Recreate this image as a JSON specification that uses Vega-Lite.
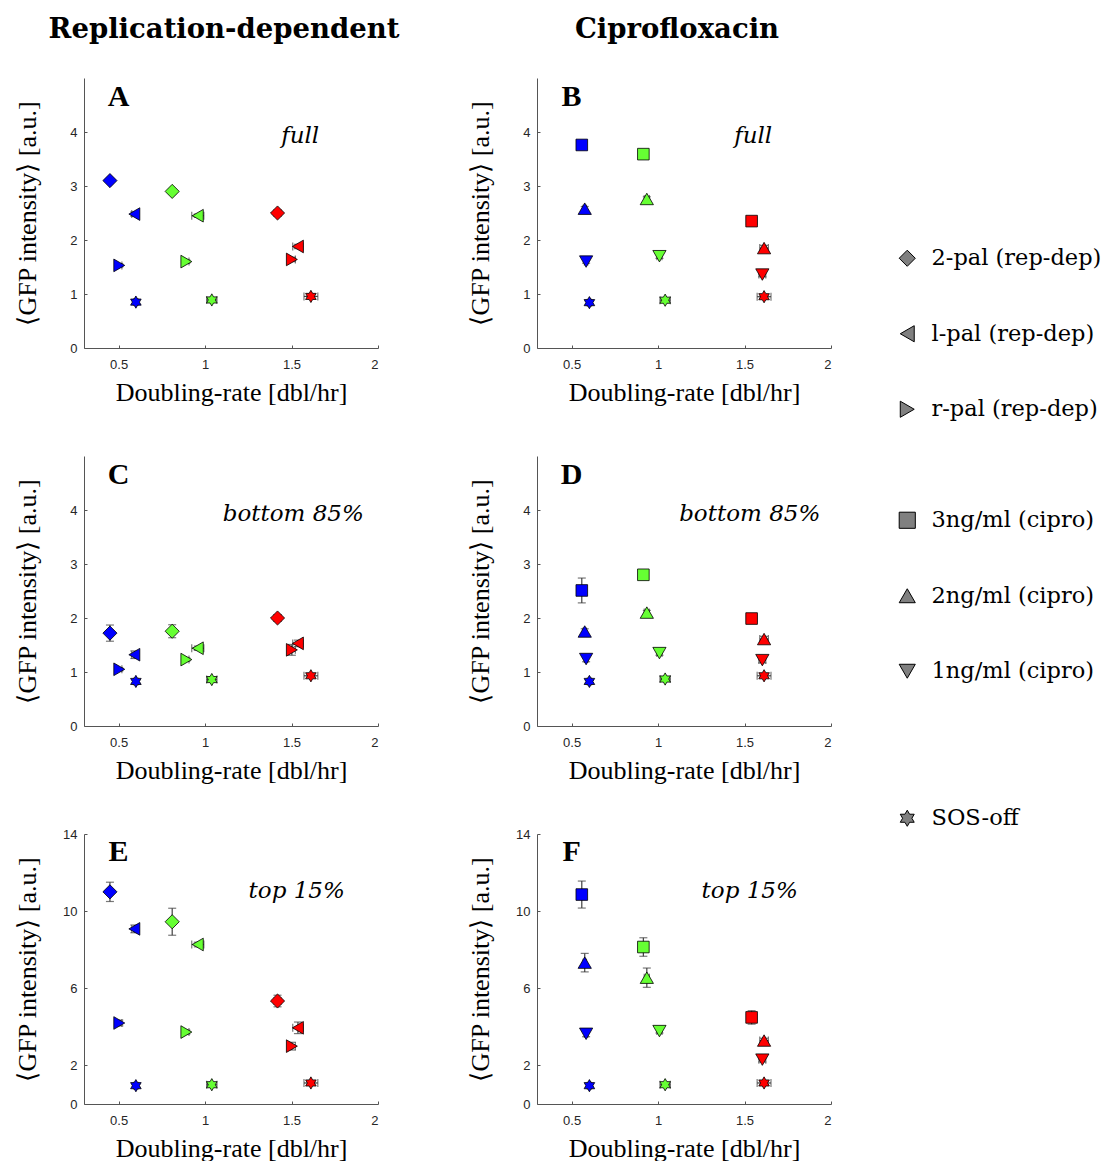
{
  "$schema": "https://vega.github.io/schema/vega-lite/v6.json",
  "background": "white",
  "padding": {"left": 14, "top": 15, "right": 0, "bottom": 0},
  "datasets": {
    "rep": [
      {"strain": "2-pal (rep-dep)", "growth": "slow", "dr": 0.45, "dr_err": 0.01, "full": 3.10, "full_err": 0.04, "bot": 1.72, "bot_err": 0.15, "top": 11.0, "top_err": 0.5},
      {"strain": "l-pal (rep-dep)", "growth": "slow", "dr": 0.591, "dr_err": 0.015, "full": 2.48, "full_err": 0.04, "bot": 1.32, "bot_err": 0.07, "top": 9.08, "top_err": 0.2},
      {"strain": "r-pal (rep-dep)", "growth": "slow", "dr": 0.504, "dr_err": 0.015, "full": 1.53, "full_err": 0.03, "bot": 1.05, "bot_err": 0.03, "top": 4.2, "top_err": 0.15},
      {"strain": "SOS-off", "growth": "slow", "dr": 0.600, "dr_err": 0.012, "full": 0.85, "full_err": 0.03, "bot": 0.825, "bot_err": 0.03, "top": 0.95, "top_err": 0.05},
      {"strain": "2-pal (rep-dep)", "growth": "medium", "dr": 0.81, "dr_err": 0.01, "full": 2.90, "full_err": 0.05, "bot": 1.755, "bot_err": 0.12, "top": 9.45, "top_err": 0.7},
      {"strain": "l-pal (rep-dep)", "growth": "medium", "dr": 0.958, "dr_err": 0.035, "full": 2.45, "full_err": 0.03, "bot": 1.44, "bot_err": 0.04, "top": 8.27, "top_err": 0.12},
      {"strain": "r-pal (rep-dep)", "growth": "medium", "dr": 0.892, "dr_err": 0.015, "full": 1.60, "full_err": 0.03, "bot": 1.23, "bot_err": 0.03, "top": 3.73, "top_err": 0.1},
      {"strain": "SOS-off", "growth": "medium", "dr": 1.039, "dr_err": 0.03, "full": 0.89, "full_err": 0.03, "bot": 0.86, "bot_err": 0.02, "top": 1.0, "top_err": 0.05},
      {"strain": "2-pal (rep-dep)", "growth": "fast", "dr": 1.419, "dr_err": 0.02, "full": 2.50, "full_err": 0.04, "bot": 2.0, "bot_err": 0.06, "top": 5.34, "top_err": 0.3},
      {"strain": "l-pal (rep-dep)", "growth": "fast", "dr": 1.537, "dr_err": 0.03, "full": 1.88, "full_err": 0.04, "bot": 1.53, "bot_err": 0.06, "top": 3.95, "top_err": 0.3},
      {"strain": "r-pal (rep-dep)", "growth": "fast", "dr": 1.502, "dr_err": 0.02, "full": 1.64, "full_err": 0.04, "bot": 1.41, "bot_err": 0.1, "top": 3.0, "top_err": 0.2},
      {"strain": "SOS-off", "growth": "fast", "dr": 1.612, "dr_err": 0.04, "full": 0.955, "full_err": 0.03, "bot": 0.93, "bot_err": 0.03, "top": 1.09, "top_err": 0.05}
    ],
    "cipro": [
      {"strain": "3ng/ml (cipro)", "growth": "slow", "dr": 0.559, "dr_err": 0.01, "full": 3.76, "full_err": 0.04, "bot": 2.51, "bot_err": 0.23, "top": 10.86, "top_err": 0.7},
      {"strain": "2ng/ml (cipro)", "growth": "slow", "dr": 0.576, "dr_err": 0.01, "full": 2.58, "full_err": 0.04, "bot": 1.75, "bot_err": 0.05, "top": 7.33, "top_err": 0.48},
      {"strain": "1ng/ml (cipro)", "growth": "slow", "dr": 0.584, "dr_err": 0.01, "full": 1.60, "full_err": 0.03, "bot": 1.24, "bot_err": 0.05, "top": 3.64, "top_err": 0.15},
      {"strain": "SOS-off", "growth": "slow", "dr": 0.603, "dr_err": 0.012, "full": 0.84, "full_err": 0.03, "bot": 0.825, "bot_err": 0.03, "top": 0.95, "top_err": 0.05},
      {"strain": "3ng/ml (cipro)", "growth": "medium", "dr": 0.915, "dr_err": 0.02, "full": 3.59, "full_err": 0.04, "bot": 2.80, "bot_err": 0.05, "top": 8.14, "top_err": 0.48},
      {"strain": "2ng/ml (cipro)", "growth": "medium", "dr": 0.935, "dr_err": 0.015, "full": 2.76, "full_err": 0.04, "bot": 2.10, "bot_err": 0.04, "top": 6.55, "top_err": 0.5},
      {"strain": "1ng/ml (cipro)", "growth": "medium", "dr": 1.008, "dr_err": 0.015, "full": 1.70, "full_err": 0.04, "bot": 1.35, "bot_err": 0.04, "top": 3.78, "top_err": 0.1},
      {"strain": "SOS-off", "growth": "medium", "dr": 1.041, "dr_err": 0.03, "full": 0.885, "full_err": 0.03, "bot": 0.87, "bot_err": 0.02, "top": 1.0, "top_err": 0.05},
      {"strain": "3ng/ml (cipro)", "growth": "fast", "dr": 1.541, "dr_err": 0.03, "full": 2.35, "full_err": 0.04, "bot": 1.99, "bot_err": 0.04, "top": 4.49, "top_err": 0.35},
      {"strain": "2ng/ml (cipro)", "growth": "fast", "dr": 1.613, "dr_err": 0.025, "full": 1.85, "full_err": 0.05, "bot": 1.61, "bot_err": 0.05, "top": 3.29, "top_err": 0.12},
      {"strain": "1ng/ml (cipro)", "growth": "fast", "dr": 1.603, "dr_err": 0.02, "full": 1.36, "full_err": 0.04, "bot": 1.22, "bot_err": 0.05, "top": 2.30, "top_err": 0.12},
      {"strain": "SOS-off", "growth": "fast", "dr": 1.613, "dr_err": 0.04, "full": 0.95, "full_err": 0.03, "bot": 0.93, "bot_err": 0.03, "top": 1.09, "top_err": 0.05}
    ]
  },
  "config": {
    "view": {"stroke": null},
    "axis": {
      "grid": false,
      "domainColor": "#555555",
      "domainWidth": 1,
      "tickColor": "#555555",
      "tickSize": -3,
      "labelFont": "Liberation Sans",
      "labelFontSize": 13,
      "labelColor": "#262626",
      "titleFont": "Liberation Serif",
      "titleFontSize": 26,
      "titleFontWeight": "normal",
      "titleColor": "black"
    },
    "legend": {"title": null, "labelFont": "DejaVu Serif", "labelFontSize": 22.5, "labelColor": "black", "symbolSize": 260, "rowPadding": 52.5, "labelOffset": 13, "labelLimit": 400, "symbolFillColor": "#808080", "symbolStrokeColor": "black", "symbolStrokeWidth": 1, "symbolOpacity": 1},
    "text": {"color": "black", "align": "center", "baseline": "middle"}
  },
  "columns": 2,
  "spacing": {"row": 108, "column": 159},
  "bounds": "flush",
  "resolve": {"scale": {"shape": "independent", "size": "independent"}, "legend": {"shape": "independent"}},
  "concat": [
    {
      "width": 294, "height": 270,
      "title": {"text": "Replication-dependent", "font": "DejaVu Serif", "fontSize": 27.5, "fontWeight": "bold", "color": "black", "anchor": "middle", "dx": -7, "offset": 35},
      "layer": [
        {"data": {"name": "rep"}, "mark": {"type": "errorbar", "ticks": {"size": 8}, "color": "#404040", "thickness": 1.2},
         "encoding": {"x": {"field": "dr", "type": "quantitative", "scale": {"domain": [0.3, 2], "nice": false, "zero": false}, "axis": {"title": "Doubling-rate [dbl/hr]", "values": [0.5, 1, 1.5, 2], "format": "~g", "labelPadding": 13, "titlePadding": 8}},
                      "y": {"field": "full", "type": "quantitative", "scale": {"domain": [0, 5], "nice": false, "zero": false}, "axis": {"title": "⟨GFP intensity⟩ [a.u.]", "values": [0, 1, 2, 3, 4], "labelPadding": 10, "titlePadding": 29}},
                      "yError": {"field": "full_err"}}},
        {"data": {"name": "rep"}, "mark": {"type": "errorbar", "ticks": {"size": 8}, "color": "#404040", "thickness": 1.2},
         "encoding": {"x": {"field": "dr", "type": "quantitative", "scale": {"domain": [0.3, 2], "nice": false, "zero": false}, "axis": {"title": "Doubling-rate [dbl/hr]", "values": [0.5, 1, 1.5, 2], "format": "~g", "labelPadding": 13, "titlePadding": 8}},
                      "xError": {"field": "dr_err"},
                      "y": {"field": "full", "type": "quantitative", "scale": {"domain": [0, 5], "nice": false, "zero": false}, "axis": {"title": "⟨GFP intensity⟩ [a.u.]", "values": [0, 1, 2, 3, 4], "labelPadding": 10, "titlePadding": 29}}}},
        {"data": {"name": "rep"}, "mark": {"type": "point", "filled": true, "stroke": "black", "strokeWidth": 0.8, "opacity": 1},
         "encoding": {
           "x": {"field": "dr", "type": "quantitative", "scale": {"domain": [0.3, 2], "nice": false, "zero": false}, "axis": {"title": "Doubling-rate [dbl/hr]", "values": [0.5, 1, 1.5, 2], "format": "~g", "labelPadding": 13, "titlePadding": 8}},
           "y": {"field": "full", "type": "quantitative", "scale": {"domain": [0, 5], "nice": false, "zero": false}, "axis": {"title": "⟨GFP intensity⟩ [a.u.]", "values": [0, 1, 2, 3, 4], "labelPadding": 10, "titlePadding": 29}},
           "fill": {"field": "growth", "type": "nominal", "scale": {"domain": ["slow", "medium", "fast"], "range": ["#0000ff", "#66ff33", "#ff0000"]}, "legend": null},
           "shape": {"field": "strain", "type": "nominal", "scale": {"domain": ["2-pal (rep-dep)", "l-pal (rep-dep)", "r-pal (rep-dep)", "SOS-off"], "range": ["diamond", "triangle-left", "triangle-right", "M0,-1L0.289,-0.5L0.866,-0.5L0.577,0L0.866,0.5L0.289,0.5L0,1L-0.289,0.5L-0.866,0.5L-0.577,0L-0.866,-0.5L-0.289,-0.5Z"]},
             "legend": {"orient": "none", "legendX": 812, "legendY": 169, "values": ["2-pal (rep-dep)", "l-pal (rep-dep)", "r-pal (rep-dep)"]}},
           "size": {"field": "strain", "type": "nominal", "scale": {"type": "ordinal", "domain": ["SOS-off", "2-pal (rep-dep)", "l-pal (rep-dep)", "r-pal (rep-dep)"], "range": [150, 200, 160, 160]}, "legend": null}
         }},
        {"data": {"values": [{"label": "A"}]}, "mark": {"type": "text", "font": "Liberation Serif", "fontWeight": "bold", "fontSize": 30},
         "encoding": {"x": {"datum": 0.5, "type": "quantitative"}, "y": {"datum": 4.64, "type": "quantitative"}, "text": {"field": "label"}}},
        {"data": {"values": [{"label": "full"}]}, "mark": {"type": "text", "font": "DejaVu Serif", "fontStyle": "italic", "fontSize": 23},
         "encoding": {"x": {"datum": 1.55, "type": "quantitative"}, "y": {"datum": 3.92, "type": "quantitative"}, "text": {"field": "label"}}}
      ]
    },
    {
      "width": 294, "height": 270,
      "title": {"text": "Ciprofloxacin", "font": "DejaVu Serif", "fontSize": 27.5, "fontWeight": "bold", "color": "black", "anchor": "middle", "dx": -7, "offset": 35},
      "layer": [
        {"data": {"name": "cipro"}, "mark": {"type": "errorbar", "ticks": {"size": 8}, "color": "#404040", "thickness": 1.2},
         "encoding": {"x": {"field": "dr", "type": "quantitative", "scale": {"domain": [0.3, 2], "nice": false, "zero": false}, "axis": {"title": "Doubling-rate [dbl/hr]", "values": [0.5, 1, 1.5, 2], "format": "~g", "labelPadding": 13, "titlePadding": 8}},
                      "y": {"field": "full", "type": "quantitative", "scale": {"domain": [0, 5], "nice": false, "zero": false}, "axis": {"title": "⟨GFP intensity⟩ [a.u.]", "values": [0, 1, 2, 3, 4], "labelPadding": 10, "titlePadding": 29}},
                      "yError": {"field": "full_err"}}},
        {"data": {"name": "cipro"}, "mark": {"type": "errorbar", "ticks": {"size": 8}, "color": "#404040", "thickness": 1.2},
         "encoding": {"x": {"field": "dr", "type": "quantitative", "scale": {"domain": [0.3, 2], "nice": false, "zero": false}, "axis": {"title": "Doubling-rate [dbl/hr]", "values": [0.5, 1, 1.5, 2], "format": "~g", "labelPadding": 13, "titlePadding": 8}},
                      "xError": {"field": "dr_err"},
                      "y": {"field": "full", "type": "quantitative", "scale": {"domain": [0, 5], "nice": false, "zero": false}, "axis": {"title": "⟨GFP intensity⟩ [a.u.]", "values": [0, 1, 2, 3, 4], "labelPadding": 10, "titlePadding": 29}}}},
        {"data": {"name": "cipro"}, "mark": {"type": "point", "filled": true, "stroke": "black", "strokeWidth": 0.8, "opacity": 1},
         "encoding": {
           "x": {"field": "dr", "type": "quantitative", "scale": {"domain": [0.3, 2], "nice": false, "zero": false}, "axis": {"title": "Doubling-rate [dbl/hr]", "values": [0.5, 1, 1.5, 2], "format": "~g", "labelPadding": 13, "titlePadding": 8}},
           "y": {"field": "full", "type": "quantitative", "scale": {"domain": [0, 5], "nice": false, "zero": false}, "axis": {"title": "⟨GFP intensity⟩ [a.u.]", "values": [0, 1, 2, 3, 4], "labelPadding": 10, "titlePadding": 29}},
           "fill": {"field": "growth", "type": "nominal", "scale": {"domain": ["slow", "medium", "fast"], "range": ["#0000ff", "#66ff33", "#ff0000"]}, "legend": null},
           "shape": {"field": "strain", "type": "nominal", "scale": {"domain": ["3ng/ml (cipro)", "2ng/ml (cipro)", "1ng/ml (cipro)", "SOS-off"], "range": ["square", "triangle-up", "triangle-down", "M0,-1L0.289,-0.5L0.866,-0.5L0.577,0L0.866,0.5L0.289,0.5L0,1L-0.289,0.5L-0.866,0.5L-0.577,0L-0.866,-0.5L-0.289,-0.5Z"]},
             "legend": {"orient": "none", "legendX": 359, "legendY": 431, "values": ["3ng/ml (cipro)", "2ng/ml (cipro)", "1ng/ml (cipro)"]}},
           "size": {"field": "strain", "type": "nominal", "scale": {"type": "ordinal", "domain": ["SOS-off", "3ng/ml (cipro)", "2ng/ml (cipro)", "1ng/ml (cipro)"], "range": [150, 135, 175, 175]}, "legend": null}
         }},
        {"data": {"values": [{"label": "B"}]}, "mark": {"type": "text", "font": "Liberation Serif", "fontWeight": "bold", "fontSize": 30},
         "encoding": {"x": {"datum": 0.5, "type": "quantitative"}, "y": {"datum": 4.64, "type": "quantitative"}, "text": {"field": "label"}}},
        {"data": {"values": [{"label": "full"}]}, "mark": {"type": "text", "font": "DejaVu Serif", "fontStyle": "italic", "fontSize": 23},
         "encoding": {"x": {"datum": 1.55, "type": "quantitative"}, "y": {"datum": 3.92, "type": "quantitative"}, "text": {"field": "label"}}}
      ]
    },
    {
      "width": 294, "height": 270,
      "layer": [
        {"data": {"name": "rep"}, "mark": {"type": "errorbar", "ticks": {"size": 8}, "color": "#404040", "thickness": 1.2},
         "encoding": {"x": {"field": "dr", "type": "quantitative", "scale": {"domain": [0.3, 2], "nice": false, "zero": false}, "axis": {"title": "Doubling-rate [dbl/hr]", "values": [0.5, 1, 1.5, 2], "format": "~g", "labelPadding": 13, "titlePadding": 8}},
                      "y": {"field": "bot", "type": "quantitative", "scale": {"domain": [0, 5], "nice": false, "zero": false}, "axis": {"title": "⟨GFP intensity⟩ [a.u.]", "values": [0, 1, 2, 3, 4], "labelPadding": 10, "titlePadding": 29}},
                      "yError": {"field": "bot_err"}}},
        {"data": {"name": "rep"}, "mark": {"type": "errorbar", "ticks": {"size": 8}, "color": "#404040", "thickness": 1.2},
         "encoding": {"x": {"field": "dr", "type": "quantitative", "scale": {"domain": [0.3, 2], "nice": false, "zero": false}, "axis": {"title": "Doubling-rate [dbl/hr]", "values": [0.5, 1, 1.5, 2], "format": "~g", "labelPadding": 13, "titlePadding": 8}},
                      "xError": {"field": "dr_err"},
                      "y": {"field": "bot", "type": "quantitative", "scale": {"domain": [0, 5], "nice": false, "zero": false}, "axis": {"title": "⟨GFP intensity⟩ [a.u.]", "values": [0, 1, 2, 3, 4], "labelPadding": 10, "titlePadding": 29}}}},
        {"data": {"name": "rep"}, "mark": {"type": "point", "filled": true, "stroke": "black", "strokeWidth": 0.8, "opacity": 1},
         "encoding": {
           "x": {"field": "dr", "type": "quantitative", "scale": {"domain": [0.3, 2], "nice": false, "zero": false}, "axis": {"title": "Doubling-rate [dbl/hr]", "values": [0.5, 1, 1.5, 2], "format": "~g", "labelPadding": 13, "titlePadding": 8}},
           "y": {"field": "bot", "type": "quantitative", "scale": {"domain": [0, 5], "nice": false, "zero": false}, "axis": {"title": "⟨GFP intensity⟩ [a.u.]", "values": [0, 1, 2, 3, 4], "labelPadding": 10, "titlePadding": 29}},
           "fill": {"field": "growth", "type": "nominal", "scale": {"domain": ["slow", "medium", "fast"], "range": ["#0000ff", "#66ff33", "#ff0000"]}, "legend": null},
           "shape": {"field": "strain", "type": "nominal", "scale": {"domain": ["2-pal (rep-dep)", "l-pal (rep-dep)", "r-pal (rep-dep)", "SOS-off"], "range": ["diamond", "triangle-left", "triangle-right", "M0,-1L0.289,-0.5L0.866,-0.5L0.577,0L0.866,0.5L0.289,0.5L0,1L-0.289,0.5L-0.866,0.5L-0.577,0L-0.866,-0.5L-0.289,-0.5Z"]},
             "legend": {"orient": "none", "legendX": 812, "legendY": 351, "values": ["SOS-off"]}},
           "size": {"field": "strain", "type": "nominal", "scale": {"type": "ordinal", "domain": ["SOS-off", "2-pal (rep-dep)", "l-pal (rep-dep)", "r-pal (rep-dep)"], "range": [150, 200, 160, 160]}, "legend": null}
         }},
        {"data": {"values": [{"label": "C"}]}, "mark": {"type": "text", "font": "Liberation Serif", "fontWeight": "bold", "fontSize": 30},
         "encoding": {"x": {"datum": 0.5, "type": "quantitative"}, "y": {"datum": 4.64, "type": "quantitative"}, "text": {"field": "label"}}},
        {"data": {"values": [{"label": "bottom 85%"}]}, "mark": {"type": "text", "font": "DejaVu Serif", "fontStyle": "italic", "fontSize": 23},
         "encoding": {"x": {"datum": 1.51, "type": "quantitative"}, "y": {"datum": 3.93, "type": "quantitative"}, "text": {"field": "label"}}}
      ]
    },
    {
      "width": 294, "height": 270,
      "layer": [
        {"data": {"name": "cipro"}, "mark": {"type": "errorbar", "ticks": {"size": 8}, "color": "#404040", "thickness": 1.2},
         "encoding": {"x": {"field": "dr", "type": "quantitative", "scale": {"domain": [0.3, 2], "nice": false, "zero": false}, "axis": {"title": "Doubling-rate [dbl/hr]", "values": [0.5, 1, 1.5, 2], "format": "~g", "labelPadding": 13, "titlePadding": 8}},
                      "y": {"field": "bot", "type": "quantitative", "scale": {"domain": [0, 5], "nice": false, "zero": false}, "axis": {"title": "⟨GFP intensity⟩ [a.u.]", "values": [0, 1, 2, 3, 4], "labelPadding": 10, "titlePadding": 29}},
                      "yError": {"field": "bot_err"}}},
        {"data": {"name": "cipro"}, "mark": {"type": "errorbar", "ticks": {"size": 8}, "color": "#404040", "thickness": 1.2},
         "encoding": {"x": {"field": "dr", "type": "quantitative", "scale": {"domain": [0.3, 2], "nice": false, "zero": false}, "axis": {"title": "Doubling-rate [dbl/hr]", "values": [0.5, 1, 1.5, 2], "format": "~g", "labelPadding": 13, "titlePadding": 8}},
                      "xError": {"field": "dr_err"},
                      "y": {"field": "bot", "type": "quantitative", "scale": {"domain": [0, 5], "nice": false, "zero": false}, "axis": {"title": "⟨GFP intensity⟩ [a.u.]", "values": [0, 1, 2, 3, 4], "labelPadding": 10, "titlePadding": 29}}}},
        {"data": {"name": "cipro"}, "mark": {"type": "point", "filled": true, "stroke": "black", "strokeWidth": 0.8, "opacity": 1},
         "encoding": {
           "x": {"field": "dr", "type": "quantitative", "scale": {"domain": [0.3, 2], "nice": false, "zero": false}, "axis": {"title": "Doubling-rate [dbl/hr]", "values": [0.5, 1, 1.5, 2], "format": "~g", "labelPadding": 13, "titlePadding": 8}},
           "y": {"field": "bot", "type": "quantitative", "scale": {"domain": [0, 5], "nice": false, "zero": false}, "axis": {"title": "⟨GFP intensity⟩ [a.u.]", "values": [0, 1, 2, 3, 4], "labelPadding": 10, "titlePadding": 29}},
           "fill": {"field": "growth", "type": "nominal", "scale": {"domain": ["slow", "medium", "fast"], "range": ["#0000ff", "#66ff33", "#ff0000"]}, "legend": null},
           "shape": {"field": "strain", "type": "nominal", "scale": {"domain": ["3ng/ml (cipro)", "2ng/ml (cipro)", "1ng/ml (cipro)", "SOS-off"], "range": ["square", "triangle-up", "triangle-down", "M0,-1L0.289,-0.5L0.866,-0.5L0.577,0L0.866,0.5L0.289,0.5L0,1L-0.289,0.5L-0.866,0.5L-0.577,0L-0.866,-0.5L-0.289,-0.5Z"]}, "legend": null},
           "size": {"field": "strain", "type": "nominal", "scale": {"type": "ordinal", "domain": ["SOS-off", "3ng/ml (cipro)", "2ng/ml (cipro)", "1ng/ml (cipro)"], "range": [150, 135, 175, 175]}, "legend": null}
         }},
        {"data": {"values": [{"label": "D"}]}, "mark": {"type": "text", "font": "Liberation Serif", "fontWeight": "bold", "fontSize": 30},
         "encoding": {"x": {"datum": 0.5, "type": "quantitative"}, "y": {"datum": 4.64, "type": "quantitative"}, "text": {"field": "label"}}},
        {"data": {"values": [{"label": "bottom 85%"}]}, "mark": {"type": "text", "font": "DejaVu Serif", "fontStyle": "italic", "fontSize": 23},
         "encoding": {"x": {"datum": 1.53, "type": "quantitative"}, "y": {"datum": 3.93, "type": "quantitative"}, "text": {"field": "label"}}}
      ]
    },
    {
      "width": 294, "height": 270,
      "layer": [
        {"data": {"name": "rep"}, "mark": {"type": "errorbar", "ticks": {"size": 8}, "color": "#404040", "thickness": 1.2},
         "encoding": {"x": {"field": "dr", "type": "quantitative", "scale": {"domain": [0.3, 2], "nice": false, "zero": false}, "axis": {"title": "Doubling-rate [dbl/hr]", "values": [0.5, 1, 1.5, 2], "format": "~g", "labelPadding": 13, "titlePadding": 8}},
                      "y": {"field": "top", "type": "quantitative", "scale": {"domain": [0, 14], "nice": false, "zero": false}, "axis": {"title": "⟨GFP intensity⟩ [a.u.]", "values": [0, 2, 6, 10, 14], "labelPadding": 10, "titlePadding": 22}},
                      "yError": {"field": "top_err"}}},
        {"data": {"name": "rep"}, "mark": {"type": "errorbar", "ticks": {"size": 8}, "color": "#404040", "thickness": 1.2},
         "encoding": {"x": {"field": "dr", "type": "quantitative", "scale": {"domain": [0.3, 2], "nice": false, "zero": false}, "axis": {"title": "Doubling-rate [dbl/hr]", "values": [0.5, 1, 1.5, 2], "format": "~g", "labelPadding": 13, "titlePadding": 8}},
                      "xError": {"field": "dr_err"},
                      "y": {"field": "top", "type": "quantitative", "scale": {"domain": [0, 14], "nice": false, "zero": false}, "axis": {"title": "⟨GFP intensity⟩ [a.u.]", "values": [0, 2, 6, 10, 14], "labelPadding": 10, "titlePadding": 22}}}},
        {"data": {"name": "rep"}, "mark": {"type": "point", "filled": true, "stroke": "black", "strokeWidth": 0.8, "opacity": 1},
         "encoding": {
           "x": {"field": "dr", "type": "quantitative", "scale": {"domain": [0.3, 2], "nice": false, "zero": false}, "axis": {"title": "Doubling-rate [dbl/hr]", "values": [0.5, 1, 1.5, 2], "format": "~g", "labelPadding": 13, "titlePadding": 8}},
           "y": {"field": "top", "type": "quantitative", "scale": {"domain": [0, 14], "nice": false, "zero": false}, "axis": {"title": "⟨GFP intensity⟩ [a.u.]", "values": [0, 2, 6, 10, 14], "labelPadding": 10, "titlePadding": 22}},
           "fill": {"field": "growth", "type": "nominal", "scale": {"domain": ["slow", "medium", "fast"], "range": ["#0000ff", "#66ff33", "#ff0000"]}, "legend": null},
           "shape": {"field": "strain", "type": "nominal", "scale": {"domain": ["2-pal (rep-dep)", "l-pal (rep-dep)", "r-pal (rep-dep)", "SOS-off"], "range": ["diamond", "triangle-left", "triangle-right", "M0,-1L0.289,-0.5L0.866,-0.5L0.577,0L0.866,0.5L0.289,0.5L0,1L-0.289,0.5L-0.866,0.5L-0.577,0L-0.866,-0.5L-0.289,-0.5Z"]}, "legend": null},
           "size": {"field": "strain", "type": "nominal", "scale": {"type": "ordinal", "domain": ["SOS-off", "2-pal (rep-dep)", "l-pal (rep-dep)", "r-pal (rep-dep)"], "range": [150, 200, 160, 160]}, "legend": null}
         }},
        {"data": {"values": [{"label": "E"}]}, "mark": {"type": "text", "font": "Liberation Serif", "fontWeight": "bold", "fontSize": 30},
         "encoding": {"x": {"datum": 0.5, "type": "quantitative"}, "y": {"datum": 13.05, "type": "quantitative"}, "text": {"field": "label"}}},
        {"data": {"values": [{"label": "top 15%"}]}, "mark": {"type": "text", "font": "DejaVu Serif", "fontStyle": "italic", "fontSize": 23},
         "encoding": {"x": {"datum": 1.53, "type": "quantitative"}, "y": {"datum": 11.07, "type": "quantitative"}, "text": {"field": "label"}}}
      ]
    },
    {
      "width": 294, "height": 270,
      "layer": [
        {"data": {"name": "cipro"}, "mark": {"type": "errorbar", "ticks": {"size": 8}, "color": "#404040", "thickness": 1.2},
         "encoding": {"x": {"field": "dr", "type": "quantitative", "scale": {"domain": [0.3, 2], "nice": false, "zero": false}, "axis": {"title": "Doubling-rate [dbl/hr]", "values": [0.5, 1, 1.5, 2], "format": "~g", "labelPadding": 13, "titlePadding": 8}},
                      "y": {"field": "top", "type": "quantitative", "scale": {"domain": [0, 14], "nice": false, "zero": false}, "axis": {"title": "⟨GFP intensity⟩ [a.u.]", "values": [0, 2, 6, 10, 14], "labelPadding": 10, "titlePadding": 22}},
                      "yError": {"field": "top_err"}}},
        {"data": {"name": "cipro"}, "mark": {"type": "errorbar", "ticks": {"size": 8}, "color": "#404040", "thickness": 1.2},
         "encoding": {"x": {"field": "dr", "type": "quantitative", "scale": {"domain": [0.3, 2], "nice": false, "zero": false}, "axis": {"title": "Doubling-rate [dbl/hr]", "values": [0.5, 1, 1.5, 2], "format": "~g", "labelPadding": 13, "titlePadding": 8}},
                      "xError": {"field": "dr_err"},
                      "y": {"field": "top", "type": "quantitative", "scale": {"domain": [0, 14], "nice": false, "zero": false}, "axis": {"title": "⟨GFP intensity⟩ [a.u.]", "values": [0, 2, 6, 10, 14], "labelPadding": 10, "titlePadding": 22}}}},
        {"data": {"name": "cipro"}, "mark": {"type": "point", "filled": true, "stroke": "black", "strokeWidth": 0.8, "opacity": 1},
         "encoding": {
           "x": {"field": "dr", "type": "quantitative", "scale": {"domain": [0.3, 2], "nice": false, "zero": false}, "axis": {"title": "Doubling-rate [dbl/hr]", "values": [0.5, 1, 1.5, 2], "format": "~g", "labelPadding": 13, "titlePadding": 8}},
           "y": {"field": "top", "type": "quantitative", "scale": {"domain": [0, 14], "nice": false, "zero": false}, "axis": {"title": "⟨GFP intensity⟩ [a.u.]", "values": [0, 2, 6, 10, 14], "labelPadding": 10, "titlePadding": 22}},
           "fill": {"field": "growth", "type": "nominal", "scale": {"domain": ["slow", "medium", "fast"], "range": ["#0000ff", "#66ff33", "#ff0000"]}, "legend": null},
           "shape": {"field": "strain", "type": "nominal", "scale": {"domain": ["3ng/ml (cipro)", "2ng/ml (cipro)", "1ng/ml (cipro)", "SOS-off"], "range": ["square", "triangle-up", "triangle-down", "M0,-1L0.289,-0.5L0.866,-0.5L0.577,0L0.866,0.5L0.289,0.5L0,1L-0.289,0.5L-0.866,0.5L-0.577,0L-0.866,-0.5L-0.289,-0.5Z"]}, "legend": null},
           "size": {"field": "strain", "type": "nominal", "scale": {"type": "ordinal", "domain": ["SOS-off", "3ng/ml (cipro)", "2ng/ml (cipro)", "1ng/ml (cipro)"], "range": [150, 135, 175, 175]}, "legend": null}
         }},
        {"data": {"values": [{"label": "F"}]}, "mark": {"type": "text", "font": "Liberation Serif", "fontWeight": "bold", "fontSize": 30},
         "encoding": {"x": {"datum": 0.5, "type": "quantitative"}, "y": {"datum": 13.05, "type": "quantitative"}, "text": {"field": "label"}}},
        {"data": {"values": [{"label": "top 15%"}]}, "mark": {"type": "text", "font": "DejaVu Serif", "fontStyle": "italic", "fontSize": 23},
         "encoding": {"x": {"datum": 1.53, "type": "quantitative"}, "y": {"datum": 11.07, "type": "quantitative"}, "text": {"field": "label"}}}
      ]
    }
  ]
}
